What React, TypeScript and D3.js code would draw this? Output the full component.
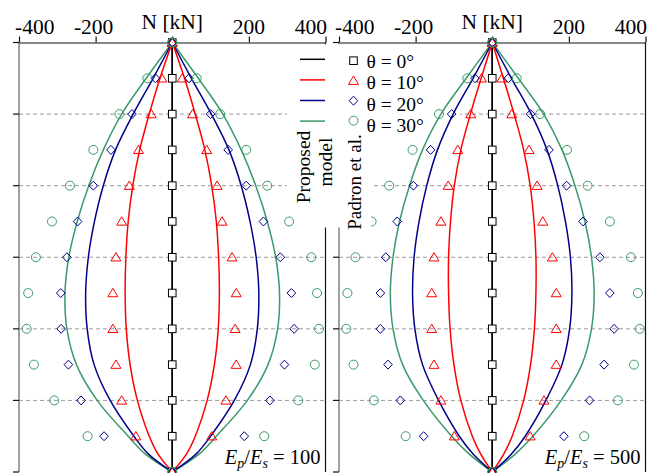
import * as d3 from "d3";
import React, { useEffect, useRef } from "react";

// depth positions (no labels in the figure, grid every 1 unit)
const depth = [0, 0.5, 1, 1.5, 2, 2.5, 3, 3.5, 4, 4.5, 5, 5.5, 6];
const curveDepth = [0, 0.5, 1, 1.5, 2, 2.5, 3, 3.5, 4, 4.5, 5, 5.5, 5.75, 6];

const xTicks = [-400, -200, 0, 200, 400];
const gridDepths = [1, 2, 3, 4, 5];
const yTicks = [0, 1, 2, 3, 4, 5, 6];
const thetaLabels = ["θ = 0°", "θ = 10°", "θ = 20°", "θ = 30°"];
const ratios = ["100", "500"];
const colors = ["#000000", "#ff0000", "#00008b", "#3a9a68"];

// Proposed model, |N| in kN (symmetric about the pile axis)
const model100_0 = [0, 0, 0, 0, 0, 0, 0, 0, 0, 0, 0, 0, 0, 0];
const model100_10 = [0, 32, 60, 85, 103, 115, 121, 123, 120, 110, 91, 60, 37, 0];
const model100_20 = [0, 50, 102, 148, 180, 203, 219, 226, 222, 204, 162, 100, 62, 0];
const model100_30 = [0, 68, 132, 180, 218, 248, 270, 280, 275, 250, 196, 115, 70, 0];

const model500_0 = [0, 0, 0, 0, 0, 0, 0, 0, 0, 0, 0, 0, 0, 0];
const model500_10 = [0, 29, 57, 82, 99, 109, 114, 114, 110, 100, 82, 52, 30, 0];
const model500_20 = [0, 50, 102, 143, 171, 191, 204, 208, 202, 182, 140, 86, 50, 0];
const model500_30 = [0, 68, 134, 182, 216, 242, 259, 266, 259, 234, 180, 106, 60, 0];

// Padron et al., left (negative) and right (positive) sides
const padron100_0 = [0, 0, 0, 0, 0, 0, 0, 0, 0, 0, 0, 0, 0];
const padron100_10L = [0, -27, -55, -88, -112, -132, -147, -155, -155, -147, -132, -95, 0];
const padron100_10R = [0, 26, 53, 90, 117, 130, 156, 167, 164, 167, 140, 103, 0];
const padron100_20L = [0, -44, -105, -160, -206, -247, -275, -291, -290, -271, -238, -178, 0];
const padron100_20R = [0, 44, 100, 146, 193, 238, 282, 311, 318, 293, 255, 188, 0];
const padron100_30L = [0, -65, -138, -206, -267, -314, -356, -376, -380, -361, -308, -221, 0];
const padron100_30R = [0, 64, 125, 193, 248, 305, 363, 378, 383, 372, 329, 240, 0];

const padron500_0 = [0, 0, 0, 0, 0, 0, 0, 0, 0, 0, 0, 0, 0];
const padron500_10L = [0, -28, -56, -90, -115, -134, -152, -158, -158, -152, -134, -99, 0];
const padron500_10R = [0, 25, 51, 96, 117, 132, 157, 167, 167, 167, 135, 99, 0];
const padron500_20L = [0, -45, -106, -161, -206, -248, -278, -292, -292, -272, -240, -179, 0];
const padron500_20R = [0, 42, 100, 148, 194, 237, 281, 307, 318, 292, 254, 187, 0];
const padron500_30L = [0, -65, -139, -208, -269, -315, -357, -378, -381, -362, -309, -226, 0];
const padron500_30R = [0, 64, 125, 195, 249, 307, 362, 380, 385, 370, 328, 240, 0];

const width = 649;
const height = 473;
const font = "'Liberation Serif', 'Times New Roman', serif";

const drawMarker = (g: any, kind: number, cx: number, cy: number) => {
  const c = colors[kind];
  if (kind === 0) {
    g.append("rect")
      .attr("x", cx - 3.8).attr("y", cy - 3.8)
      .attr("width", 7.6).attr("height", 7.6)
      .attr("fill", "white").attr("stroke", c).attr("stroke-width", 1);
  } else if (kind === 1) {
    g.append("path")
      .attr("d", `M${cx},${cy - 4.7}L${cx + 5},${cy + 3.7}L${cx - 5},${cy + 3.7}Z`)
      .attr("fill", "none").attr("stroke", c).attr("stroke-width", 1);
  } else if (kind === 2) {
    g.append("path")
      .attr("d", `M${cx},${cy - 4.5}L${cx + 4.3},${cy}L${cx},${cy + 4.5}L${cx - 4.3},${cy}Z`)
      .attr("fill", "none").attr("stroke", c).attr("stroke-width", 1);
  } else {
    g.append("circle")
      .attr("cx", cx).attr("cy", cy).attr("r", 4.5)
      .attr("fill", "none").attr("stroke", c).attr("stroke-width", 1);
  }
};

const App = () => {
  const svgRef = useRef<HTMLDivElement>(null);

  useEffect(() => {
    const panels = [
      {
        ratio: ratios[0], x0: 19, x1: 325.5,
        model: [model100_0, model100_10, model100_20, model100_30],
        left: [padron100_0, padron100_10L, padron100_20L, padron100_30L],
        right: [padron100_0, padron100_10R, padron100_20R, padron100_30R],
      },
      {
        ratio: ratios[1], x0: 339, x1: 645.5,
        model: [model500_0, model500_10, model500_20, model500_30],
        left: [padron500_0, padron500_10L, padron500_20L, padron500_30L],
        right: [padron500_0, padron500_10R, padron500_20R, padron500_30R],
      },
    ];

    const yScale = d3.scaleLinear().domain([0, 6]).range([42.5, 472]);

    const svg = d3.create("svg")
      .attr("width", width)
      .attr("height", height)
      .attr("viewBox", `0 0 ${width} ${height}`)
      .style("position", "absolute")
      .style("left", "0px")
      .style("top", "0px")
      .style("background", "white")
      .style("font-family", font);

    const xScales = panels.map(p => d3.scaleLinear().domain([-400, 400]).range([p.x0, p.x1]));

    // grid + axes
    panels.forEach((p, pi) => {
      const xScale = xScales[pi];
      const g = svg.append("g");

      gridDepths.forEach(z => {
        g.append("line")
          .attr("x1", p.x0).attr("x2", p.x1)
          .attr("y1", yScale(z)).attr("y2", yScale(z))
          .attr("stroke", "#9a9a9a").attr("stroke-width", 1)
          .attr("stroke-dasharray", "4,3");
      });

      // left axis (grey) and right border
      g.append("line")
        .attr("x1", p.x0).attr("x2", p.x0)
        .attr("y1", yScale(0)).attr("y2", yScale(6))
        .attr("stroke", "#808080").attr("stroke-width", 1.5);
      g.append("line")
        .attr("x1", p.x1).attr("x2", p.x1)
        .attr("y1", yScale(0)).attr("y2", yScale(6))
        .attr("stroke", "#111").attr("stroke-width", 1.2);

      yTicks.forEach(z => {
        g.append("line")
          .attr("x1", p.x0 - 6).attr("x2", p.x0)
          .attr("y1", yScale(z)).attr("y2", yScale(z))
          .attr("stroke", "#111").attr("stroke-width", 1.2);
      });

      // top axis
      const top = g.append("g")
        .attr("transform", `translate(0, ${yScale(0)})`)
        .call(d3.axisTop(xScale).tickValues(xTicks).tickSize(6).tickSizeOuter(0).tickFormat(() => ""));
      top.select(".domain").attr("stroke", "#111").attr("stroke-width", 1.2);
      top.selectAll(".tick line").attr("stroke", "#111").attr("stroke-width", 1.2);

      xTicks.forEach((t, i) => {
        if (t === 0) return;
        const anchor = i === 0 ? "start" : i === xTicks.length - 1 ? "end" : "middle";
        const dx = i === 0 ? -4 : i === xTicks.length - 1 ? 1.5 : t < 0 ? -2 : 0;
        g.append("text")
          .attr("x", xScale(t) + dx)
          .attr("y", 33.5)
          .attr("text-anchor", anchor)
          .style("font-size", "21.5px")
          .text(t < 0 ? `-${Math.abs(t)}` : `${t}`);
      });

      g.append("text")
        .attr("x", xScale(0))
        .attr("y", 28.5)
        .attr("text-anchor", "middle")
        .style("font-size", "21.5px")
        .text("N [kN]");
    });

    // white legend area (under the data)
    svg.append("rect")
      .attr("x", 287).attr("y", 44.5).attr("width", 173).attr("height", 95)
      .attr("fill", "white");
    svg.append("rect")
      .attr("x", 287).attr("y", 44.5).attr("width", 83).attr("height", 183)
      .attr("fill", "white");

    // curves and markers
    panels.forEach((p, pi) => {
      const xScale = xScales[pi];
      const g = svg.append("g");

      const lineL = d3.line<number>()
        .x(d => xScale(-d))
        .y((d, i) => yScale(curveDepth[i]))
        .curve(d3.curveCatmullRom.alpha(0.5));
      const lineR = d3.line<number>()
        .x(d => xScale(d))
        .y((d, i) => yScale(curveDepth[i]))
        .curve(d3.curveCatmullRom.alpha(0.5));

      [3, 2, 1, 0].forEach(k => {
        [lineL, lineR].forEach(ln => {
          g.append("path")
            .attr("d", ln(p.model[k]))
            .attr("fill", "none")
            .attr("stroke", colors[k])
            .attr("stroke-width", 1.5);
        });
      });

      [0, 1, 2, 3].forEach(k => {
        depth.forEach((z, i) => {
          drawMarker(g, k, xScale(p.left[k][i]), yScale(z));
          if (k > 0) drawMarker(g, k, xScale(p.right[k][i]), yScale(z));
        });
      });

      // E_p/E_s annotation
      const t = g.append("text")
        .attr("x", p.x1 - 5)
        .attr("y", 463.5)
        .attr("text-anchor", "end")
        .style("font-size", "20.5px");
      t.append("tspan").style("font-style", "italic").text("E");
      t.append("tspan").style("font-style", "italic").style("font-size", "14px").attr("dy", 4).text("p");
      t.append("tspan").attr("dy", -4).text("/");
      t.append("tspan").style("font-style", "italic").text("E");
      t.append("tspan").style("font-style", "italic").style("font-size", "14px").attr("dy", 4).text("s");
      t.append("tspan").attr("dy", -4).text(` = ${p.ratio}`);
    });

    // white strip behind the "Padron et al." label (over the data)
    svg.append("rect")
      .attr("x", 342).attr("y", 140).attr("width", 29).attr("height", 87.5)
      .attr("fill", "white");

    // legend
    const leg = svg.append("g");
    thetaLabels.forEach((lab, i) => {
      const ly = 59.3 + i * 20.6;
      leg.append("line")
        .attr("x1", 300).attr("x2", 325)
        .attr("y1", ly).attr("y2", ly)
        .attr("stroke", colors[i]).attr("stroke-width", 1.5);
      drawMarker(leg, i, 353.5, 60.7 + i * 20);
      leg.append("text")
        .attr("x", 366.5)
        .attr("y", 67.5 + i * 21.6)
        .style("font-size", "19.5px")
        .text(lab);
    });

    leg.append("text")
      .attr("transform", "translate(310, 167) rotate(-90)")
      .attr("text-anchor", "middle")
      .style("font-size", "19.5px")
      .text("Proposed");
    leg.append("text")
      .attr("transform", "translate(332, 162) rotate(-90)")
      .attr("text-anchor", "middle")
      .style("font-size", "19.5px")
      .text("model");
    leg.append("text")
      .attr("transform", "translate(361, 182) rotate(-90)")
      .attr("text-anchor", "middle")
      .style("font-size", "19px")
      .text("Padron et al.");

    if (svgRef.current) {
      svgRef.current.innerHTML = "";
      svgRef.current.appendChild(svg.node() as Node);
    }
  });

  return <div ref={svgRef}></div>;
};

export default App;
